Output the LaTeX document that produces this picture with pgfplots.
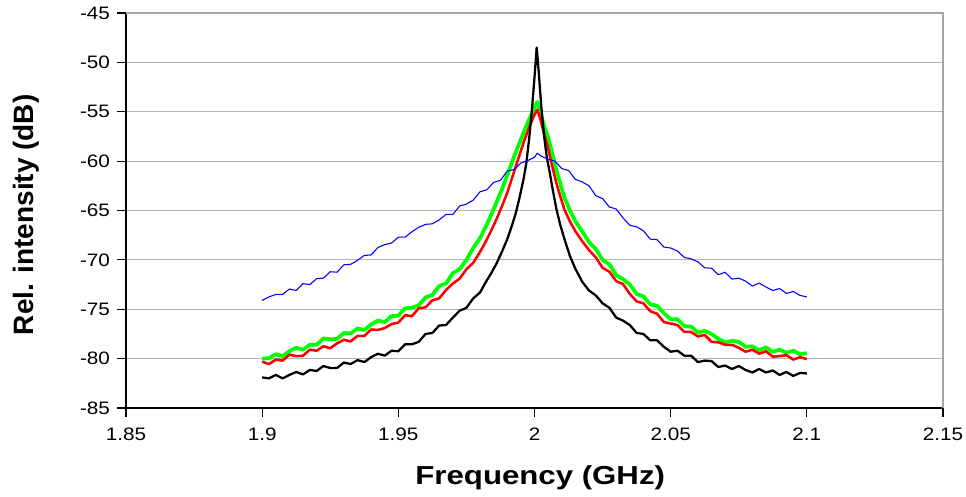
\documentclass[border=0pt]{standalone}
\usepackage{pgfplots}
\pgfplotsset{compat=1.18}
\usepackage{fontspec}
\setmainfont{Liberation Sans}
\definecolor{gridgray}{HTML}{B4B4B4}
\definecolor{boxgray}{HTML}{A6A6A6}
\definecolor{lgreen}{HTML}{00FF00}
\definecolor{lred}{HTML}{FF0000}
\definecolor{lblue}{HTML}{0000FF}
\newcommand{\tl}[1]{\scalebox{1.15}[1]{#1}}
\begin{document}
\begin{tikzpicture}
\begin{axis}[
  scale only axis,
  width=612.75pt, height=296.25pt,
  xmin=1.85, xmax=2.15, ymin=-85, ymax=-45,
  axis lines=left,
  axis line style={-, black, line width=0.9pt},
  xtick={1.85,1.9,1.95,2,2.05,2.1,2.15},
  xticklabels={\tl{1.85},\tl{1.9},\tl{1.95},\tl{2},\tl{2.05},\tl{2.1},\tl{2.15}},
  ytick={-85,-80,-75,-70,-65,-60,-55,-50,-45},
  yticklabels={\tl{-85},\tl{-80},\tl{-75},\tl{-70},\tl{-65},\tl{-60},\tl{-55},\tl{-50},\tl{-45}},
  tick align=outside,
  major tick length=6.5pt,
  tick style={black, line width=0.8pt},
  ymajorgrids,
  major grid style={gridgray, line width=0.9pt},
  ticklabel style={font=\fontsize{13.5}{16}\selectfont},
  xticklabel style={yshift=-5pt},
  yticklabel style={xshift=-2pt},
  xlabel={\scalebox{1.2}[1]{\fontsize{19.5}{23}\selectfont\bfseries Frequency (GHz)}},
  ylabel={\fontsize{21}{25}\selectfont\bfseries Rel. intensity (dB)},
  xlabel style={at={(axis description cs:0.507,-0.177)}, anchor=center},
  ylabel style={at={(axis description cs:-0.1224,0.489)}, anchor=center, rotate=0},
  clip=false,
]
\draw[boxgray, line width=1.3pt] (rel axis cs:0,1) -- (rel axis cs:1,1) -- (rel axis cs:1,0);
% green
\addplot[lgreen, line width=2.8pt, line join=round] coordinates {
(1.9000,-80.0)(1.9025,-79.95)(1.9050,-79.55)(1.9075,-79.75)(1.9100,-79.25)(1.9125,-78.9)
(1.9150,-79.1)(1.9175,-78.6)(1.9200,-78.6)(1.9225,-77.95)(1.9250,-78.05)(1.9275,-78.0)
(1.9300,-77.4)(1.9325,-77.45)(1.9350,-76.95)(1.9375,-77.1)(1.9400,-76.55)(1.9425,-76.15)
(1.9450,-76.3)(1.9475,-75.7)(1.9500,-75.65)(1.9525,-74.9)(1.9550,-74.85)(1.9575,-74.6)
(1.9600,-73.8)(1.9625,-73.55)(1.9650,-72.65)(1.9675,-72.4)(1.9700,-71.35)(1.9725,-70.95)
(1.9750,-70.0)(1.9775,-68.8)(1.9800,-67.8)
(1.9820,-66.7)(1.9840,-65.5)(1.9860,-64.2)(1.9880,-62.9)(1.9900,-61.4)(1.9920,-59.9)
(1.9940,-58.5)(1.9960,-57.1)(1.9980,-55.8)(2.0000,-54.6)(2.0010,-54.0)(2.0020,-54.9)
(2.0035,-56.4)(2.0050,-57.6)(2.0065,-59.2)(2.0080,-60.9)(2.0095,-62.3)(2.0110,-63.7)
(2.0130,-65.0)(2.0150,-66.1)(2.0175,-67.1)(2.0200,-68.2)
(2.0225,-68.9)(2.0250,-70.0)(2.0275,-70.45)(2.0300,-71.55)(2.0325,-71.95)(2.0350,-72.5)
(2.0375,-73.45)(2.0400,-73.7)(2.0425,-74.5)(2.0450,-74.65)(2.0475,-75.4)(2.0500,-76.0)
(2.0525,-76.0)(2.0550,-76.7)(2.0575,-76.75)(2.0600,-77.35)(2.0625,-77.2)(2.0650,-77.5)
(2.0675,-78.0)(2.0700,-78.35)(2.0725,-78.2)(2.0750,-78.3)(2.0775,-78.8)(2.0800,-78.75)
(2.0825,-79.15)(2.0850,-78.85)(2.0875,-79.3)(2.0900,-79.1)(2.0925,-79.4)(2.0950,-79.2)
(2.0975,-79.55)(2.1000,-79.45)
};
% red
\addplot[lred, line width=1.9pt, line join=round] coordinates {
(1.9000,-80.3)(1.9025,-80.55)(1.9050,-80.1)(1.9075,-80.2)(1.9100,-79.6)(1.9125,-79.75)
(1.9150,-79.7)(1.9175,-79.1)(1.9200,-79.2)(1.9225,-78.75)(1.9250,-78.95)(1.9275,-78.45)
(1.9300,-78.1)(1.9325,-78.25)(1.9350,-77.7)(1.9375,-77.7)(1.9400,-77.05)(1.9425,-77.1)
(1.9450,-76.9)(1.9475,-76.5)(1.9500,-76.35)(1.9525,-75.6)(1.9550,-75.7)(1.9575,-74.9)
(1.9600,-74.8)(1.9625,-74.1)(1.9650,-73.9)(1.9675,-73.05)(1.9700,-72.4)(1.9725,-71.9)
(1.9750,-70.95)(1.9775,-70.3)(1.9800,-69.2)
(1.9820,-68.2)(1.9840,-67.1)(1.9860,-65.9)(1.9880,-64.6)(1.9900,-63.2)(1.9920,-61.5)
(1.9940,-59.8)(1.9960,-58.1)(1.9980,-56.6)(2.0000,-55.3)(2.0010,-54.8)(2.0020,-55.6)
(2.0035,-57.2)(2.0050,-58.7)(2.0065,-60.5)(2.0080,-62.2)(2.0095,-63.6)(2.0110,-64.9)
(2.0130,-66.1)(2.0150,-67.1)(2.0175,-68.1)(2.0200,-69.0)
(2.0225,-69.75)(2.0250,-70.8)(2.0275,-71.2)(2.0300,-72.15)(2.0325,-72.45)(2.0350,-73.45)
(2.0375,-74.2)(2.0400,-74.4)(2.0425,-75.2)(2.0450,-75.45)(2.0475,-76.3)(2.0500,-76.45)
(2.0525,-76.6)(2.0550,-77.3)(2.0575,-77.3)(2.0600,-77.75)(2.0625,-77.6)(2.0650,-78.3)
(2.0675,-78.35)(2.0700,-78.6)(2.0725,-78.6)(2.0750,-78.9)(2.0775,-79.3)(2.0800,-79.1)
(2.0825,-79.5)(2.0850,-79.25)(2.0875,-79.8)(2.0900,-79.75)(2.0925,-79.65)(2.0950,-80.1)
(2.0975,-79.85)(2.1000,-80.05)
};
% black
\addplot[black, line width=1.7pt, line join=round] coordinates {
(1.9000,-81.9)(1.9025,-82.0)(1.9050,-81.65)(1.9075,-82.0)(1.9100,-81.65)(1.9125,-81.35)
(1.9150,-81.6)(1.9175,-81.15)(1.9200,-81.25)(1.9225,-80.75)(1.9250,-80.95)(1.9275,-80.95)
(1.9300,-80.4)(1.9325,-80.55)(1.9350,-80.15)(1.9375,-80.35)(1.9400,-79.85)(1.9425,-79.5)
(1.9450,-79.7)(1.9475,-79.2)(1.9500,-79.25)(1.9525,-78.55)(1.9550,-78.55)(1.9575,-78.3)
(1.9600,-77.5)(1.9625,-77.4)(1.9650,-76.65)(1.9675,-76.6)(1.9700,-75.85)(1.9725,-75.15)
(1.9750,-74.85)(1.9775,-73.9)(1.9800,-73.3)
(1.9820,-72.3)(1.9840,-71.4)(1.9860,-70.4)(1.9880,-69.2)(1.9900,-67.9)(1.9915,-66.7)
(1.9930,-65.4)(1.9945,-63.7)(1.9960,-61.8)(1.9970,-60.2)(1.9980,-57.8)(1.9990,-55.0)
(2.0000,-51.5)(2.0008,-48.5)(2.0015,-50.8)(2.0025,-54.5)(2.0035,-57.4)(2.0045,-59.6)
(2.0055,-61.0)(2.0065,-62.6)(2.0080,-64.8)(2.0095,-66.5)(2.0110,-67.9)(2.0130,-69.6)
(2.0150,-70.9)(2.0175,-72.2)(2.0200,-73.1)
(2.0225,-73.6)(2.0250,-74.4)(2.0275,-74.85)(2.0300,-75.85)(2.0325,-76.15)(2.0350,-76.6)
(2.0375,-77.4)(2.0400,-77.5)(2.0425,-78.15)(2.0450,-78.15)(2.0475,-78.8)(2.0500,-79.3)
(2.0525,-79.2)(2.0550,-79.7)(2.0575,-79.7)(2.0600,-80.35)(2.0625,-80.2)(2.0650,-80.25)
(2.0675,-80.85)(2.0700,-80.7)(2.0725,-81.05)(2.0750,-80.75)(2.0775,-81.15)(2.0800,-81.4)
(2.0825,-81.05)(2.0850,-81.4)(2.0875,-81.2)(2.0900,-81.65)(2.0925,-81.35)(2.0950,-81.75)
(2.0975,-81.45)(2.1000,-81.5)
};
% blue
\addplot[lblue, line width=0.8pt, line join=round] coordinates {
(1.9000,-74.1)(1.9025,-73.75)(1.9050,-73.5)(1.9075,-73.5)(1.9100,-72.95)(1.9125,-73.1)
(1.9150,-72.4)(1.9175,-72.5)(1.9200,-71.9)(1.9225,-71.85)(1.9250,-71.2)(1.9275,-71.25)
(1.9300,-70.5)(1.9325,-70.45)(1.9350,-70.05)(1.9375,-69.55)(1.9400,-69.5)(1.9425,-68.75)
(1.9450,-68.45)(1.9475,-68.3)(1.9500,-67.7)(1.9525,-67.7)(1.9550,-67.15)(1.9575,-66.7)
(1.9600,-66.4)(1.9625,-66.35)(1.9650,-65.95)(1.9675,-65.4)(1.9700,-65.4)(1.9725,-64.55)
(1.9750,-64.35)(1.9775,-63.95)(1.9800,-63.1)(1.9825,-62.9)(1.9850,-62.15)(1.9875,-61.95)
(1.9900,-61.0)(1.9925,-60.85)(1.9950,-60.2)(1.9975,-59.95)(2.0000,-59.6)(2.0010,-59.2)
(2.0025,-59.5)(2.0050,-59.8)(2.0075,-60.0)(2.0100,-60.75)(2.0125,-60.95)(2.0150,-61.85)
(2.0175,-62.1)(2.0200,-62.5)(2.0225,-63.5)(2.0250,-63.8)(2.0275,-64.65)(2.0300,-64.85)
(2.0325,-65.75)(2.0350,-66.5)(2.0375,-66.65)(2.0400,-67.05)(2.0425,-67.9)(2.0450,-67.95)
(2.0475,-68.7)(2.0500,-68.8)(2.0525,-69.1)(2.0550,-69.75)(2.0575,-69.9)(2.0600,-70.2)
(2.0625,-70.8)(2.0650,-70.85)(2.0675,-71.5)(2.0700,-71.25)(2.0725,-71.95)(2.0750,-71.85)
(2.0775,-72.15)(2.0800,-72.65)(2.0825,-72.35)(2.0850,-72.75)(2.0875,-73.1)(2.0900,-72.9)
(2.0925,-73.4)(2.0950,-73.2)(2.0975,-73.6)(2.1000,-73.75)
};
\end{axis}
\pgfresetboundingbox
\path ([shift={(-94.5pt,-66pt)}]current axis.south west) rectangle ([shift={(17.25pt,9.75pt)}]current axis.north east);
\end{tikzpicture}
\end{document}
